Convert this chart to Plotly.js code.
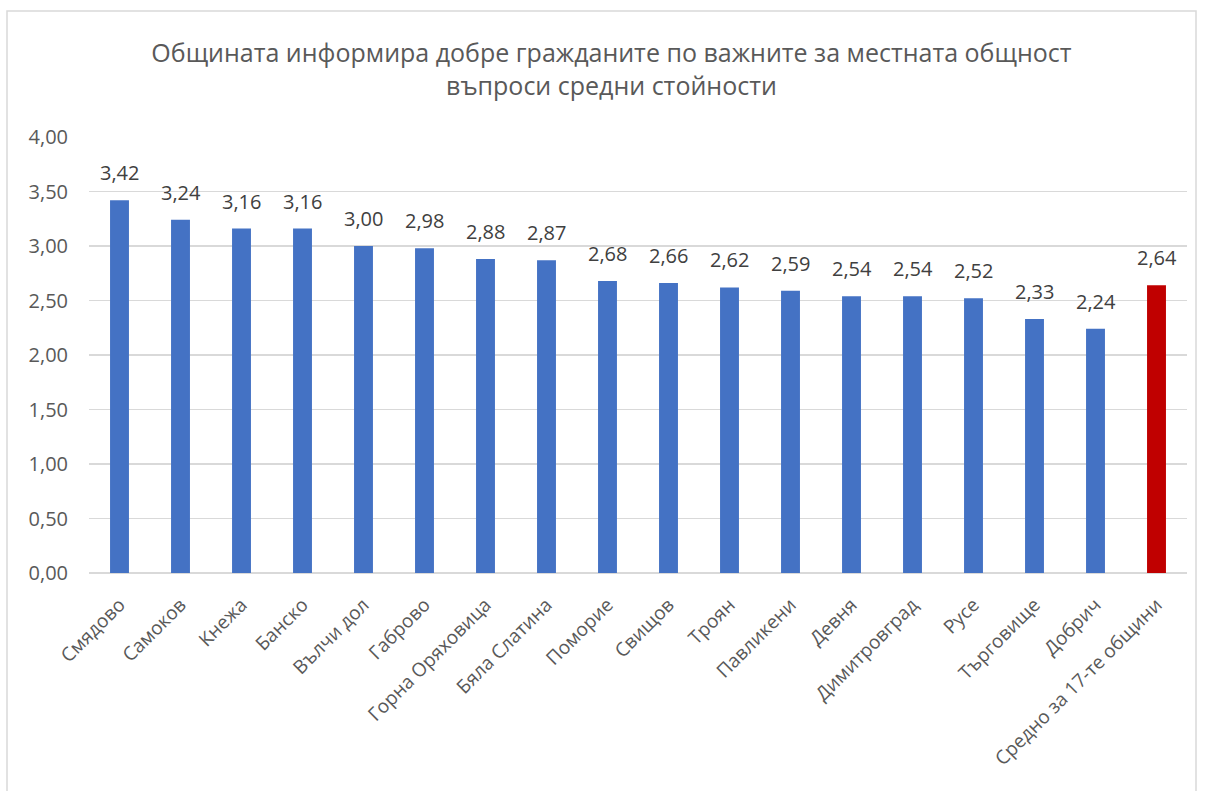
<!DOCTYPE html>
<html>
<head>
<meta charset="utf-8">
<script src="https://cdn.plot.ly/plotly-3.0.1.min.js"></script>
<style>
html,body{margin:0;padding:0;background:#fff;}
#chart{width:1206px;height:791px;}
</style>
</head>
<body>
<div id="chart"></div>
<script>
const categories = ["Смядово","Самоков","Кнежа","Банско","Вълчи дол","Габрово","Горна Оряховица","Бяла Слатина","Поморие","Свищов","Троян","Павликени","Девня","Димитровград","Русе","Търговище","Добрич","Средно за 17-те общини"];
const values = [3.42,3.24,3.16,3.16,3.00,2.98,2.88,2.87,2.68,2.66,2.62,2.59,2.54,2.54,2.52,2.33,2.24,2.64];
const colors = values.map((v,i)=> i === values.length-1 ? "#C00000" : "#4472C4");
const yTicks = [0,0.5,1,1.5,2,2.5,3,3.5,4];

const fontFam = "'Open Sans', 'Noto Sans', sans-serif";

const trace = {
  type: "bar",
  x: categories,
  y: values,
  marker: {color: colors},
  hoverinfo: "skip"
};

const annotations = categories.map((c,i)=>({
  x: c, y: values[i], xref: "x", yref: "y",
  text: values[i].toFixed(2).replace(".", ","),
  showarrow: false, yanchor: "bottom", yshift: 12,
  font: {family: fontFam, size: 20, color: "#404040"}
}));

const layout = {
  width: 1206, height: 791,
  margin: {l: 89, r: 19, t: 137, b: 218},
  paper_bgcolor: "#fff", plot_bgcolor: "#fff",
  separators: ",.",
  bargap: 0.69,
  showlegend: false,
  title: {
    text: "Общината информира добре гражданите по важните за местната общност<br>въпроси средни стойности",
    x: 0.507, xanchor: "center", y: 0.921, yanchor: "top",
    font: {family: fontFam, size: 25, color: "#595959"}
  },
  xaxis: {
    tickangle: -45,
    tickfont: {family: fontFam, size: 19, color: "#595959"},
    showgrid: false, zeroline: false, showline: false, ticks: "",
    ticklabelstandoff: 16
  },
  yaxis: {
    range: [0, 4],
    tickvals: yTicks,
    tickformat: ".2f",
    tickfont: {family: fontFam, size: 20, color: "#595959"},
    gridcolor: "#d9d9d9", gridwidth: 1.3,
    zeroline: true, zerolinecolor: "#d9d9d9", zerolinewidth: 1.3,
    showline: false, ticks: "", ticklen: 0,
    ticklabelstandoff: 20
  },
  annotations: annotations,
  shapes: [{
    type: "rect", xref: "paper", yref: "paper",
    x0: (7-89)/1098, x1: (1196-89)/1098,
    y0: (573-800)/436, y1: (573-11)/436,
    line: {color: "#d9d9d9", width: 1.5}, fillcolor: "rgba(0,0,0,0)", layer: "below"
  }]
};

Plotly.newPlot("chart", [trace], layout, {staticPlot: true, displayModeBar: false});
</script>
</body>
</html>
